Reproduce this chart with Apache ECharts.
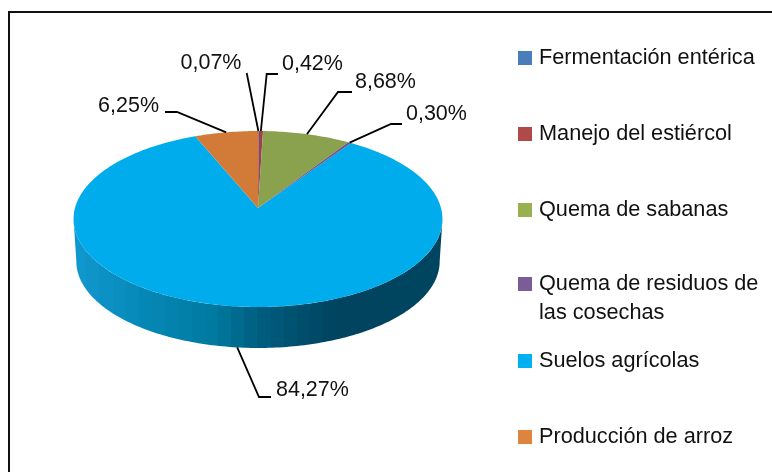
<!DOCTYPE html>
<html><head><meta charset="utf-8">
<style>html,body{margin:0;padding:0;background:#fff}#c{width:772px;height:472px}</style>
<script src="https://cdn.jsdelivr.net/npm/echarts@6/dist/echarts.min.js"></script>
</head><body><div id="c"></div>
<script>
const categories = ["Fermentación entérica","Manejo del estiércol","Quema de sabanas","Quema de residuos de\nlas cosechas","Suelos agrícolas","Producción de arroz"];
const percentValues = [0.07,0.42,8.68,0.30,84.27,6.25];
const percentLabels = ["0,07%","0,42%","8,68%","0,30%","84,27%","6,25%"];

const legendColors = ["#4a7ebb","#b04a48","#98b050","#7a5c96","#00b0f0","#dd853f"];
const sliceColors  = ["#4572a7","#a0404a","#8aa14d","#6f5390","#00acec","#d27b38"];
const legendCenters = [57,133,209,284,360,436];
// leader elbow (optional), leader end, text anchor, text alignment
const labelLayout = [
  {end:[246.7,73], text:[211,63], align:"center"},
  {elbow:[266.7,74], end:[278,74], text:[282,64], align:"left"},
  {elbow:[338,92], end:[352,92], text:[355,82], align:"left"},
  {elbow:[391,124], end:[402,124], text:[406,114], align:"left"},
  {elbow:[259,397], end:[271,397], text:[276,390], align:"left"},
  {elbow:[177,112], end:[165,112], text:[159,106], align:"right"}
];
// pie projection (a tilted disc seen in perspective)
const cx=258, cy=208, R=183, S=86.6, K=0.125, DEPTH=42.5, BOTTOM_SCALE=0.985;
function proj(deg, lower){
  const a=deg*Math.PI/180, u=Math.sin(a), v=Math.cos(a), w=1+K*v;
  const s=lower?BOTTOM_SCALE:1;
  return [cx+s*R*u/w, cy-s*S*v/w+(lower?DEPTH:0)];
}
const total=percentValues.reduce((a,b)=>a+b,0);
const starts=[]; percentValues.reduce((acc,v,i)=>{starts[i]=acc;return acc+v;},0);
const toDeg=v=>v/total*360;
function arc(a0,a1){const n=Math.max(2,Math.ceil((a1-a0)/1));const p=[];for(let i=0;i<=n;i++)p.push(a0+(a1-a0)*i/n);return p;}
// silhouette angles: where the projected disc is widest
const WIDE=Math.acos(-K)*180/Math.PI;
// banded shading of the wall
const shadeKeys=[[0,[17,153,208]],[0.2,[5,135,182]],[0.38,[0,122,160]],[0.5,[0,95,128]],[0.62,[0,78,108]],[0.72,[0,68,95]],[1,[0,69,96]]];
function shade(t){for(let i=1;i<shadeKeys.length;i++){if(t<=shadeKeys[i][0]){const a=shadeKeys[i-1],b=shadeKeys[i],f=(t-a[0])/(b[0]-a[0]);
  return 'rgb('+a[1].map((c,j)=>Math.round(c+(b[1][j]-c)*f)).join(',')+')';}}return 'rgb(0,69,96)';}
const bandStops=[];const BANDS=28;for(let b=0;b<BANDS;b++){const col=shade((b+0.5)/BANDS);bandStops.push({offset:b/BANDS,color:col},{offset:(b+1)/BANDS,color:col});}
const sideFill={type:'linear',x:73,y:0,x2:442,y2:0,global:true,colorStops:bandStops};

function makeRender(i){
  return function(params,api){
    const value=api.value(0);
    const a0=toDeg(starts[i]), a1=a0+toDeg(value);
    const children=[];
    const s0=Math.max(a0,WIDE), s1=Math.min(a1,360-WIDE);
    if(s1>s0){
      const top=arc(s0,s1).map(a=>proj(a,false));
      const low=arc(s0,s1).reverse().map(a=>proj(a,true));
      children.push({type:'polygon',shape:{points:top.concat(low)},style:{fill:sideFill,stroke:null}});
    }
    const face=[[cx,cy]].concat(arc(a0,a1).map(a=>proj(a,false)));
    children.push({type:'polygon',z2:5,shape:{points:face},style:{fill:sliceColors[i]}});
    const mid=(a0+a1)/2, isFront=Math.cos(mid*Math.PI/180)<0;
    const L=labelLayout[i];
    const pts=[proj(mid,isFront)];
    if(L.elbow)pts.push(L.elbow);
    pts.push(L.end);
    children.push({type:'polyline',z2:20,shape:{points:pts},style:{fill:null,stroke:'#000',lineWidth:1.8}});
    children.push({type:'text',z2:20,x:L.text[0],y:L.text[1],scaleX:0.955,style:{text:percentLabels[i],x:0,y:0,align:L.align,verticalAlign:'middle',
      font:"22.5px 'Liberation Sans'",fill:'#111'}});
    return {type:'group',children};
  };
}
const series=categories.map((name,i)=>({
  type:'custom',name,coordinateSystem:'none',silent:true,animation:false,z:i===4?1:2,
  itemStyle:{color:legendColors[i]},data:[[percentValues[i]]],renderItem:makeRender(i)
}));
const legend=categories.map((name,i)=>{
  const two=name.includes("\n");
  return {data:[name],left:518,top:legendCenters[i]-(two?43.5:12),orient:'vertical',padding:0,itemWidth:14,itemHeight:14,
    icon:'rect',selectedMode:false,
    // a blank first line keeps the swatch level with the first text line
    formatter:n=>two?" \n"+n:n,
    textStyle:{fontFamily:'Liberation Sans',fontSize:21.7,color:'#111',lineHeight:two?29:26,padding:[0,0,0,2]}};
});
const chart=echarts.init(document.getElementById('c'),null,{renderer:'canvas',width:772,height:472});
chart.setOption({
  backgroundColor:'#fff',animation:false,legend,series,
  graphic:[{type:'polyline',silent:true,shape:{points:[[9,472],[9,12],[772,12]]},style:{fill:null,stroke:'#111',lineWidth:2}}]
});
</script></body></html>
